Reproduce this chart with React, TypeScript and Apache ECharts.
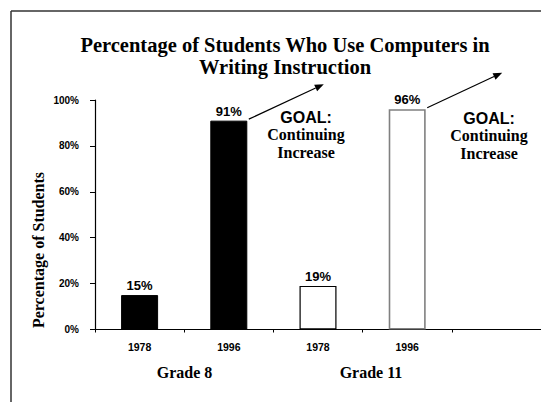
import React, { useEffect, useRef } from "react";
import * as echarts from "echarts";

const categories = ["1978", "1996", "1978", "1996", ""];
const values = [15, 91, 19, 96];
const barStyles = [
  { color: "#000000", borderColor: "#000000", borderWidth: 1 },
  { color: "#000000", borderColor: "#000000", borderWidth: 1 },
  { color: "#ffffff", borderColor: "#000000", borderWidth: 1.2 },
  { color: "#ffffff", borderColor: "#808080", borderWidth: 1.6 },
];
const yTicks = [0, 20, 40, 60, 80, 100];
const titleText = "Percentage of Students Who Use Computers in\nWriting Instruction";
const yName = "Percentage of Students";
const groups = [
  { label: "Grade 8", x: 184.5 },
  { label: "Grade 11", x: 371 },
];
const goalLines = ["GOAL:", "Continuing", "Increase"];
const arrowBars = [1, 3];
const goalCenters = [306, 489];

const SERIF = "'Liberation Serif', 'Times New Roman', serif";
const SANS = "'Liberation Sans', Arial, sans-serif";

export default function App() {
  const ref = useRef<HTMLDivElement>(null);
  useEffect(() => {
    if (!ref.current) return;
    const chart = echarts.init(ref.current, undefined, { renderer: "svg" });
    const option: any = {
      animation: false,
      backgroundColor: "#ffffff",
      title: {
        text: titleText,
        left: 280,
        textAlign: "center",
        top: 29,
        textStyle: {
          fontFamily: SERIF,
          fontWeight: "bold",
          fontSize: 20.5,
          lineHeight: 22,
          color: "#000",
        },
      },
      grid: { left: 95, top: 100, right: -3, bottom: 72.5, containLabel: false },
      xAxis: {
        type: "category",
        data: categories,
        axisLine: { show: true, lineStyle: { color: "#000", width: 1.2 } },
        axisTick: { show: true, length: 3, lineStyle: { color: "#000" } },
        axisLabel: {
          fontFamily: SANS,
          fontWeight: "bold",
          fontSize: 10.5,
          color: "#000",
          margin: 12,
        },
      },
      yAxis: {
        type: "value",
        min: 0,
        max: 100,
        interval: 20,
        axisLine: { show: true, lineStyle: { color: "#000", width: 1.2 } },
        axisTick: { show: true, length: 5, lineStyle: { color: "#000" } },
        splitLine: { show: false },
        axisLabel: {
          formatter: (v: number) => (yTicks.includes(v) ? v + "%" : ""),
          fontFamily: SANS,
          fontWeight: "bold",
          fontSize: 10,
          color: "#000",
          margin: 16,
        },
      },
      series: [
        {
          type: "bar",
          barWidth: 37,
          data: values.map((v, i) => ({ value: v, itemStyle: barStyles[i] })),
          label: {
            show: true,
            position: "top",
            distance: 3,
            formatter: "{c}%",
            fontFamily: SANS,
            fontWeight: "bold",
            fontSize: 13,
            color: "#000",
          },
        },
      ],
    };
    chart.setOption(option);

    const graphics: any[] = [];
    graphics.push({
      type: "line",
      shape: { x1: 11, y1: 11, x2: 541, y2: 11 },
      style: { stroke: "#333", lineWidth: 1.5 },
    });
    graphics.push({
      type: "line",
      shape: { x1: 11, y1: 11, x2: 11, y2: 402 },
      style: { stroke: "#333", lineWidth: 1.5 },
    });
    graphics.push({
      type: "text",
      x: 38,
      y: 250,
      rotation: Math.PI / 2,
      style: {
        text: yName,
        fontFamily: SERIF,
        fontWeight: "bold",
        fontSize: 16,
        fill: "#000",
        align: "center",
        verticalAlign: "middle",
      },
    });
    groups.forEach((g) => {
      graphics.push({
        type: "text",
        x: g.x,
        y: 372,
        style: {
          text: g.label,
          fontFamily: SERIF,
          fontWeight: "bold",
          fontSize: 16,
          fill: "#000",
          align: "center",
          verticalAlign: "middle",
        },
      });
    });
    arrowBars.forEach((bi, k) => {
      const p = chart.convertToPixel({ gridIndex: 0 }, [bi, values[bi]]) as number[];
      const sx = p[0] + 20;
      const sy = p[1] - 1.5;
      const tx = sx + 75;
      const ty = sy - 35;
      const dx = tx - sx;
      const dy = ty - sy;
      const len = Math.sqrt(dx * dx + dy * dy);
      const ux = dx / len;
      const uy = dy / len;
      const hl = 9;
      const hw = 3.5;
      const bx = tx - ux * hl;
      const by = ty - uy * hl;
      graphics.push({
        type: "line",
        shape: { x1: sx, y1: sy, x2: bx, y2: by },
        style: { stroke: "#000", lineWidth: 1.2 },
      });
      graphics.push({
        type: "polygon",
        shape: {
          points: [
            [tx, ty],
            [bx - uy * hw, by + ux * hw],
            [bx + uy * hw, by - ux * hw],
          ],
        },
        style: { fill: "#000" },
      });
      const cx = goalCenters[k];
      goalLines.forEach((t, j) => {
        graphics.push({
          type: "text",
          x: cx,
          y: (k === 0 ? 125 : 126) + j * 17.5,
          style: {
            text: t,
            fontFamily: j === 0 ? SANS : SERIF,
            fontWeight: "bold",
            fontSize: 16,
            fill: "#000",
            align: "center",
            verticalAlign: "bottom",
          },
        });
      });
    });
    chart.setOption({ graphic: graphics });
    return () => chart.dispose();
  }, []);
  return (
    <div
      ref={ref}
      style={{ position: "absolute", left: 0, top: 0, width: 541, height: 402 }}
    />
  );
}
